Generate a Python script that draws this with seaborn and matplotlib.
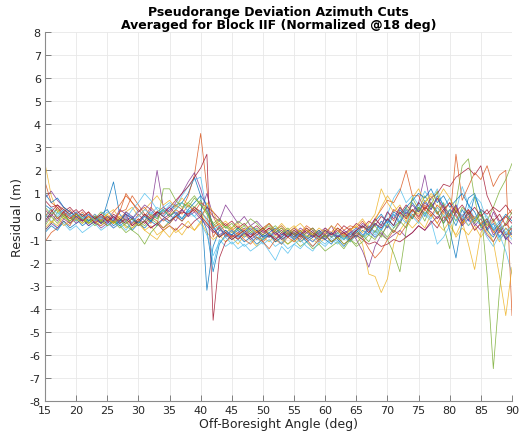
import numpy as np
import pandas as pd
import matplotlib
matplotlib.use("Agg")
import matplotlib.pyplot as plt
import seaborn as sns

# Off-boresight angle grid (deg)
angles = list(range(15, 91))

# Residual per azimuth cut (m), one value per degree from 15 to 90
cut_01 = [0.5, 0.3, -0.1, 0.2, -0.3, -0.1, -0.4, -0.2, 0.0, -0.3,
          0.6, 1.5, 0.1, -0.2, 0.0, -0.3, 0.1, -0.2, 0.2, 0.0,
          0.3, 0.5, 0.6, 1.0, 1.7, 0.9, -3.2, -1.3, -0.6, -0.7,
          -0.8, -0.6, -0.9, -0.7, -1.0, -0.8, -0.9, -0.6, -1.0, -0.8,
          -0.7, -1.1, -0.9, -0.6, -0.9, -1.0, -0.7, -0.9, -0.8, -1.1,
          -0.6, -0.9, -0.4, -0.7, -0.2, -0.5, 0.1, -0.3, 0.2, -0.1,
          0.4, 0.0, 0.6, 0.2, -0.3, 0.1, -0.4, 0.3, -0.2, 0.9,
          0.2, -0.6, -0.3, -0.9, -0.5, -0.8]
cut_02 = [-1.1, -0.7, -0.5, -0.2, -0.4, 0.1, -0.1, 0.2, -0.3, 0.0,
          -0.4, -0.2, 0.2, 0.3, 0.9, 0.5, 0.1, -0.3, 0.2, 0.4,
          0.1, 0.5, 0.3, 0.9, 1.8, 3.6, 1.2, -0.9, -0.4, -0.9,
          -0.6, -1.0, -0.7, -0.9, -0.6, -1.1, -0.8, -0.9, -1.2, -0.7,
          -0.9, -0.6, -1.0, -0.8, -1.1, -0.7, -0.9, -0.6, -0.8, -0.5,
          -0.9, -0.4, -0.6, -0.1, -0.4, 0.2, -0.2, 0.4, 0.0, 0.3,
          -0.1, 0.5, 0.1, -0.3, 0.2, 0.6, 0.0, -0.4, 0.3, -0.2,
          0.1, -0.5, -0.2, -0.7, -0.3, -0.6]
cut_03 = [2.3, 0.9, 0.2, 0.4, 0.0, -0.2, 0.1, -0.3, -0.1, -0.2,
          0.1, -0.3, -0.1, -0.5, -0.3, -0.1, -0.6, -0.4, -0.8, -0.6,
          -0.9, -0.5, -0.8, -0.4, -0.6, -0.2, -0.7, -1.0, -0.8, -1.1,
          -0.9, -1.2, -0.8, -1.0, -1.3, -0.9, -1.1, -0.8, -1.0, -1.2,
          -0.9, -1.1, -0.8, -1.0, -1.2, -0.9, -0.7, -1.0, -0.8, -1.1,
          -0.8, -1.2, -2.5, -2.6, -3.3, -2.7, -1.2, -0.6, -0.2, -0.5,
          -0.2, -0.5, 0.1, -0.3, -0.6, -0.2, -0.9, -0.5, -0.8, -0.4,
          -0.9, -0.5, -1.1, -0.6, -0.8, -0.7]
cut_04 = [0.8, 1.1, 0.7, 0.4, 0.2, 0.0, -0.2, 0.1, -0.3, -0.4,
          -0.2, -0.5, -0.3, 0.0, -0.3, 0.1, -0.2, 0.3, 2.0, 0.4,
          0.2, 0.6, 1.0, 1.5, 1.9, 1.2, 0.3, -0.5, -0.8, -0.6,
          -0.9, -0.7, -0.5, -0.8, -0.6, -0.9, -0.7, -1.0, -0.8, -0.6,
          -0.8, -0.5, -0.7, -0.9, -0.6, -0.8, -0.4, -0.9, -0.7, -0.6,
          -1.0, -1.5, -2.2, -1.3, -0.8, -0.4, -0.7, -0.3, 0.3, -0.1,
          0.6, 1.8, 0.4, 0.8, 0.3, 0.0, 0.5, -0.2, 0.1, -0.4,
          -0.1, -0.6, 0.2, -0.3, -0.8, -0.5]
cut_05 = [-0.6, -0.3, 0.2, -0.1, 0.1, -0.2, 0.0, -0.3, -0.1, 0.2,
          0.0, -0.2, -0.4, -0.7, -0.5, -0.2, -0.4, -0.1, -0.3, -0.5,
          -0.2, 0.0, 0.3, 0.6, 0.4, 0.7, 0.2, -0.3, -0.6, -0.4,
          -0.7, -0.5, -0.8, -0.6, -0.9, -1.0, -0.7, -1.1, -0.9, -1.2,
          -1.0, -1.3, -1.1, -1.4, -1.2, -1.5, -1.3, -1.1, -1.4, -1.0,
          -1.2, -0.8, -1.1, -0.6, -0.9, -0.3, -0.7, -0.2, 0.4, -0.1,
          0.3, -0.2, 0.5, 0.1, 0.6, 0.0, 0.4, -0.3, 0.2, -0.2,
          0.3, -2.5, -6.6, -3.2, -0.9, -0.4]
cut_06 = [0.1, -0.2, -0.5, -0.3, -0.6, -0.4, -0.7, -0.5, -0.3, -0.6,
          -0.4, -0.1, -0.3, 0.2, -0.1, 0.3, 0.0, 0.2, -0.1, 0.4,
          0.6, 0.4, 0.9, 1.3, 1.6, 1.7, 0.2, -2.1, -1.0, -1.3,
          -1.1, -1.4, -1.2, -1.5, -1.3, -1.1, -1.5, -1.9, -1.3, -1.6,
          -1.2, -1.4, -1.1, -1.3, -1.0, -1.2, -0.9, -1.1, -0.8, -1.0,
          -0.7, -0.9, -0.5, -0.8, -0.4, 0.1, 0.8, 1.2, 0.6, 0.9,
          0.5, 1.1, 0.7, 1.2, 0.4, 0.8, 0.2, 1.3, 0.5, -0.1,
          -0.4, -0.9, -1.3, -0.8, -1.5, -2.5]
cut_07 = [0.3, 0.0, 0.4, 0.1, -0.1, 0.2, -0.2, 0.0, -0.3, -0.1,
          -0.3, 0.0, -0.2, 0.1, -0.4, -0.1, -0.3, 0.0, 0.2, 0.1,
          0.4, 0.7, 1.0, 1.3, 1.7, 2.1, 2.7, -4.5, -1.8, -1.1,
          -0.8, -1.0, -0.7, -0.9, -0.6, -0.8, -0.5, -0.7, -0.9, -0.6,
          -0.8, -1.0, -0.7, -0.5, -0.8, -0.6, -0.9, -0.7, -0.4, -0.6,
          -0.3, -0.5, -0.2, -0.4, 0.0, -0.2, 0.3, 0.1, 0.5, 0.2,
          0.6, 0.3, 0.8, 1.0, 1.4, 1.3, 1.7, 1.9, 2.1, 1.8,
          2.2, 0.9, 0.3, -0.2, 0.0, -0.3]
cut_08 = [-0.7, -0.4, -0.6, -0.2, -0.5, -0.3, -0.1, -0.4, -0.2, 0.1,
          0.3, -0.1, -0.4, -0.2, -0.6, -0.3, -0.5, -0.2, -0.4, -0.1,
          -0.3, 0.1, -0.2, 0.2, 0.4, 0.1, -0.6, -2.4, -1.2, -0.8,
          -1.0, -0.8, -1.1, -0.9, -1.2, -1.0, -0.8, -1.1, -0.9, -0.7,
          -1.0, -0.8, -1.1, -0.9, -0.7, -1.0, -1.2, -0.8, -1.0, -0.7,
          -0.9, -0.6, -0.8, -0.3, -0.6, -0.1, -0.4, 0.3, 0.0, 0.6,
          0.2, 0.7, 0.3, 0.9, 0.5, -0.6, -1.8, -0.2, 0.8, 1.0,
          0.2, -0.6, -0.9, -0.4, -1.0, -0.6]
cut_09 = [1.5, 0.6, 0.4, 0.0, 0.3, -0.1, 0.2, -0.2, 0.1, -0.3,
          -0.1, 0.2, 0.5, 0.9, 0.6, 0.3, 0.0, 0.4, 0.1, -0.2,
          0.0, 0.3, 0.1, 0.5, 0.2, 0.6, 0.4, 0.0, -0.5, -0.3,
          -0.6, -0.4, -0.7, -0.5, -0.8, -0.6, -0.3, -0.7, -0.5, -0.8,
          -0.5, -0.7, -0.4, -0.6, -0.9, -0.5, -0.7, -0.3, -0.6, -0.4,
          -0.5, -0.2, -0.6, -0.1, 0.3, 0.7, 0.6, 1.1, 2.0, 0.9,
          0.9, 0.3, 0.6, 0.1, 0.5, -0.2, 2.7, 0.7, 1.3, 1.9,
          1.6, 2.2, 1.3, 1.8, 2.0, -4.3]
cut_10 = [0.2, -0.3, 0.0, -0.4, -0.2, 0.1, -0.1, -0.3, 0.0, -0.2,
          0.1, 0.3, -0.1, 0.2, 0.4, 0.0, 0.3, 0.6, 0.9, 0.5,
          0.7, 0.4, 0.8, 0.5, 0.3, 0.1, -0.3, -0.6, -0.9, -0.7,
          -0.5, -0.8, -0.6, -0.4, -0.7, -0.5, -0.8, -0.6, -0.3, -0.6,
          -0.4, -0.7, -0.5, -0.8, -0.6, -0.9, -0.7, -0.5, -0.8, -0.6,
          -0.4, -0.7, -0.3, 0.1, 1.2, 0.6, 0.2, 0.5, -0.1, 0.8,
          1.2, 0.6, 0.9, 0.4, 0.1, -0.4, -0.8, -0.2, -1.2, -2.3,
          -0.7, -0.3, -0.6, -1.1, -0.5, -0.9]
cut_11 = [-0.3, 0.1, -0.2, 0.2, 0.0, -0.3, -0.1, -0.4, -0.2, -0.5,
          -0.3, 0.0, -0.2, 0.2, 0.0, -0.4, -0.2, -0.5, -0.3, -0.1,
          0.1, -0.2, 0.3, 0.0, 0.4, 0.2, 1.0, 0.0, -0.2, 0.5,
          0.1, -0.3, 0.0, -0.4, -0.2, -0.5, -0.3, -0.6, -0.4, -0.7,
          -0.5, -0.8, -0.6, -0.9, -0.7, -0.5, -0.8, -0.6, -0.9, -0.7,
          -0.5, -0.8, -0.6, -0.9, -0.7, -1.0, -0.8, -0.6, -0.9, -0.7,
          -0.4, -0.6, -0.3, 0.0, -0.2, 0.3, 0.1, -0.4, -0.1, -0.6,
          -0.3, -0.8, -1.1, -0.6, -0.9, -1.2]
cut_12 = [-0.4, 0.0, -0.3, 0.1, -0.2, 0.0, -0.3, -0.1, -0.4, -0.2,
          0.0, -0.3, -0.1, -0.4, -0.6, -0.8, -1.2, -0.7, -0.4, 1.2,
          1.2, 0.7, 0.4, 0.6, 0.9, 0.5, 0.1, -0.4, -0.2, -0.5,
          -0.5, -0.2, -0.4, -0.1, -0.3, -0.6, -0.4, -0.7, -0.5, -0.8,
          -0.6, -0.9, -0.7, -0.5, -0.8, -0.6, -0.9, -0.7, -1.0, -0.8,
          -0.6, -0.9, -0.7, -0.4, -0.8, -1.0, -1.6, -2.4, -0.6, 0.8,
          0.3, 0.9, 0.5, 1.1, -0.4, -1.4, 0.6, 2.2, 2.5, 0.8,
          -0.5, -0.2, 0.4, 1.1, 1.6, 2.3]
cut_13 = [-0.2, 0.2, 0.0, 0.3, 0.1, -0.2, 0.0, -0.2, 0.1, -0.1,
          0.2, 0.0, -0.3, -0.1, 0.3, 0.6, 1.0, 0.7, 0.3, 0.0,
          -0.2, 0.1, -0.1, 0.3, 0.0, -0.3, -0.8, -1.7, -1.1, -0.9,
          -1.2, -1.0, -1.3, -1.1, -0.9, -1.2, -1.0, -1.3, -1.1, -1.4,
          -1.2, -1.0, -1.3, -1.5, -1.1, -1.3, -1.0, -1.2, -0.9, -1.1,
          -0.8, -1.0, -0.7, -0.9, -0.5, -0.2, -0.5, 0.0, -0.3, 0.2,
          0.5, 0.1, -0.2, -1.2, -0.9, -0.4, 0.2, -0.1, 0.4, 0.9,
          0.6, -0.2, -0.5, -1.0, -0.7, -0.4]
cut_14 = [0.7, 0.4, 0.5, 0.2, 0.4, 0.1, 0.3, 0.0, -0.2, 0.0,
          -0.2, 0.1, -0.1, -0.3, -0.1, -0.4, -0.2, -0.5, -0.3, -0.6,
          -0.4, -0.6, -0.3, -0.5, -0.2, 0.0, 0.4, 0.2, -0.1, -0.4,
          -0.2, -0.5, -0.3, -0.6, -0.4, -0.7, -0.5, -0.8, -0.6, -0.9,
          -0.7, -0.9, -0.6, -0.8, -1.0, -0.8, -1.1, -0.9, -0.7, -1.0,
          -0.8, -1.0, -1.2, -1.1, -1.3, -1.2, -1.0, -1.1, -0.9, -0.7,
          -0.4, -0.6, -0.2, -0.5, 0.0, -0.3, 0.2, 0.0, 0.3, -0.1,
          0.3, 0.1, 0.4, 0.2, 0.5, 0.1]
cut_15 = [1.0, 0.6, 0.8, 0.4, 0.2, 0.0, 0.1, -0.2, 0.0, -0.3,
          -0.1, -0.4, -0.2, 0.1, -0.1, -0.3, 0.0, -0.2, 0.1, 0.3,
          0.0, 0.2, -0.1, 0.3, 0.6, 0.9, 0.5, -0.4, -0.9, -0.6,
          -0.8, -0.5, -0.7, -0.4, -0.6, -0.9, -0.7, -0.5, -0.8, -0.6,
          -0.9, -0.7, -1.0, -0.8, -0.6, -0.9, -0.7, -1.0, -1.3, -0.9,
          -0.7, -0.4, -0.6, -0.2, 0.1, -0.3, 0.2, 0.0, 0.4, 0.7,
          1.0, 0.8, 1.2, 0.6, 0.9, 0.4, 0.7, 1.0, 0.5, 0.2,
          -0.4, -0.1, -0.6, -0.3, 0.1, -0.2]
cut_16 = [0.0, 0.3, -0.1, 0.2, -0.1, 0.1, -0.2, 0.0, -0.2, 0.1,
          -0.1, -0.3, 0.2, 1.0, 0.6, 0.2, 0.4, 0.0, -0.2, -0.5,
          -0.3, 0.0, -0.2, 0.1, 0.4, 0.2, -0.1, -0.5, -0.3, -0.7,
          -0.9, -0.7, -1.0, -1.2, -0.9, -1.1, -1.4, -1.0, -1.2, -0.9,
          -1.1, -0.8, -1.0, -1.3, -1.0, -0.8, -1.1, -0.9, -1.2, -1.0,
          -0.7, -0.9, -1.4, -1.8, -1.5, -1.0, -0.6, -0.8, -0.4, 0.1,
          -0.2, 0.3, 0.0, 0.5, 0.2, -0.1, 0.4, -0.3, 0.0, -0.6,
          -0.3, -0.1, -0.7, -0.4, 0.0, 0.3]
cut_17 = [-0.5, -0.2, -0.4, 0.0, -0.3, -0.1, -0.3, 0.0, -0.2, -0.4,
          -0.1, -0.3, 0.0, -0.2, -0.5, -0.3, -0.6, -0.8, -1.0, -0.6,
          -0.4, -0.7, -0.5, -0.2, -0.6, -0.3, 0.6, 0.2, -0.4, -0.2,
          -0.5, -0.3, -0.6, -0.4, -0.7, -0.5, -0.3, -0.6, -0.4, -0.7,
          -0.5, -0.3, -0.6, -0.8, -0.5, -0.7, -0.4, -0.6, -0.9, -0.6,
          -0.4, -0.1, -0.5, -0.2, 0.4, 0.9, 0.5, 0.1, -0.2, 0.3,
          0.1, 0.6, 1.0, 0.7, 1.2, 0.8, 0.3, -0.1, -0.4, 0.0,
          -0.3, -0.7, -1.1, -2.6, -4.3, -2.2]
cut_18 = [-0.6, -0.3, -0.5, -0.1, -0.3, 0.0, -0.2, 0.1, -0.1, -0.3,
          0.0, -0.2, 0.3, 0.1, -0.1, 0.2, 0.5, 0.3, 0.0, 0.2,
          0.4, 0.1, 0.3, 0.0, 0.2, -0.1, -0.4, -0.7, -0.5, -0.8,
          -0.6, -0.9, -0.7, -1.0, -0.8, -0.6, -0.9, -0.7, -1.0, -0.8,
          -1.0, -0.7, -0.9, -1.1, -0.8, -1.0, -0.7, -0.9, -0.6, -0.8,
          -0.6, -0.3, -0.5, -0.1, -0.4, 0.2, -0.1, 0.4, 0.1, 0.5,
          0.2, 0.6, 0.3, 0.8, 0.4, 0.1, 0.5, -0.2, 0.2, -0.3,
          -0.6, -0.2, -0.8, -0.5, -1.0, -0.7]
cut_19 = [0.4, 0.1, 0.3, 0.0, -0.2, 0.1, -0.1, -0.3, 0.0, -0.2,
          -0.4, -0.2, -0.5, -0.3, -0.1, -0.4, -0.2, 0.1, -0.1, 0.3,
          0.0, 0.3, 0.6, 0.4, 0.8, 0.5, 0.2, -0.3, -0.1, -0.5,
          -0.3, -0.6, -0.4, -0.7, -0.5, -0.8, -0.6, -0.4, -0.7, -0.5,
          -0.8, -0.6, -0.9, -0.7, -1.0, -0.8, -1.1, -0.9, -1.2, -1.0,
          -1.3, -1.1, -0.8, -1.0, -0.6, -0.9, -0.5, -0.2, -0.5, 0.0,
          0.4, 0.1, 0.5, 0.2, -0.3, 0.3, -0.2, 0.4, 0.1, -0.3,
          0.2, -0.4, -0.1, -0.6, -0.3, 0.2]
cut_20 = [-0.1, 0.4, 0.1, 0.3, 0.0, 0.2, -0.1, 0.1, -0.2, 0.0,
          -0.3, -0.5, -0.3, -0.6, -0.2, 0.0, 0.3, 0.1, 0.4, 0.2,
          0.5, 0.3, 0.6, 0.2, 0.0, 0.3, -0.2, -0.6, -0.4, -0.8,
          -0.6, -0.9, -0.7, -0.5, -0.8, -1.0, -0.7, -0.9, -1.2, -0.8,
          -1.0, -0.7, -0.9, -1.1, -0.8, -0.6, -0.9, -0.7, -1.0, -0.8,
          -0.5, -0.8, -0.6, -0.3, -0.6, -0.2, 0.1, -0.2, 0.3, 0.0,
          -0.3, 0.2, -0.1, 0.4, 0.0, 0.3, -0.2, 0.1, -0.4, -0.1,
          0.3, 0.0, -0.5, -0.2, -0.7, -1.0]
cut_21 = [-0.2, 0.2, 0.5, 0.3, 0.1, 0.3, 0.0, 0.2, -0.1, 0.1,
          -0.2, 0.0, -0.3, -0.1, -0.4, -0.2, 0.1, -0.1, 0.2, 0.0,
          -0.2, 0.0, 0.2, 0.1, 0.3, 0.0, -0.3, -0.6, -0.9, -0.7,
          -1.0, -0.8, -0.6, -0.9, -0.7, -0.5, -0.8, -1.0, -0.7, -0.9,
          -0.6, -0.8, -0.5, -0.7, -0.9, -0.6, -0.8, -0.5, -0.7, -0.9,
          -0.6, -0.4, -0.7, -0.3, -0.5, -0.1, -0.4, 0.2, -0.1, 0.3,
          0.0, 0.4, 0.2, -0.1, 0.3, 0.6, 0.2, 0.5, 0.1, 0.4,
          0.0, 0.3, -0.2, 0.1, -0.4, 0.0]

cuts = [cut_01, cut_02, cut_03, cut_04, cut_05, cut_06, cut_07,
        cut_08, cut_09, cut_10, cut_11, cut_12, cut_13, cut_14,
        cut_15, cut_16, cut_17, cut_18, cut_19, cut_20, cut_21]

x_ticks = list(range(15, 91, 5))
y_ticks = list(range(-8, 9))

# MATLAB-style default colour order
line_colors = ["#0072BD", "#D95319", "#EDB120", "#7E2F8E",
               "#77AC30", "#4DBEEE", "#A2142F"]

frames = []
for i, vals in enumerate(cuts):
    frames.append(pd.DataFrame({"angle": angles, "residual": vals,
                                "cut": f"cut{i + 1:02d}"}))
df = pd.concat(frames, ignore_index=True)
cut_names = [f"cut{i + 1:02d}" for i in range(len(cuts))]
palette = {name: line_colors[i % len(line_colors)] for i, name in enumerate(cut_names)}

sns.set_theme(style="white")
plt.rcParams["font.family"] = ["DejaVu Sans"]
plt.rcParams["axes.unicode_minus"] = False

fig = plt.figure(figsize=(5.32, 4.35), dpi=100)
ax = fig.add_axes([0.0846, 0.0759, 0.8778, 0.8483])

sns.lineplot(data=df, x="angle", y="residual", hue="cut", hue_order=cut_names,
             palette=palette, estimator=None, sort=False, legend=False,
             linewidth=0.55, alpha=0.85, ax=ax)

ax.set_xlim(15, 90)
ax.set_ylim(-8, 8)
ax.set_xticks(x_ticks)
ax.set_yticks(y_ticks)
ax.grid(True, color="#e8e8e8", linewidth=0.6)
ax.set_axisbelow(True)
for side in ("top", "right"):
    ax.spines[side].set_visible(False)
for side in ("left", "bottom"):
    ax.spines[side].set_color("#8c8c8c")
    ax.spines[side].set_linewidth(0.8)
ax.tick_params(axis="both", direction="in", length=4, width=0.6,
               color="#6e6e6e", labelsize=8, labelcolor="#262626")
ax.tick_params(axis="x", bottom=True, pad=3)
ax.tick_params(axis="y", left=True, pad=3)

ax.set_xlabel("Off-Boresight Angle (deg)", fontsize=9, color="#262626", labelpad=1)
ax.set_ylabel("Residual (m)", fontsize=9, color="#262626", labelpad=4)
ax.set_title("Pseudorange Deviation Azimuth Cuts\nAveraged for Block IIF (Normalized @18 deg)",
             fontsize=9, fontweight="bold", color="#000000", pad=3, linespacing=1.0)

fig.savefig("out.png", dpi=100)
